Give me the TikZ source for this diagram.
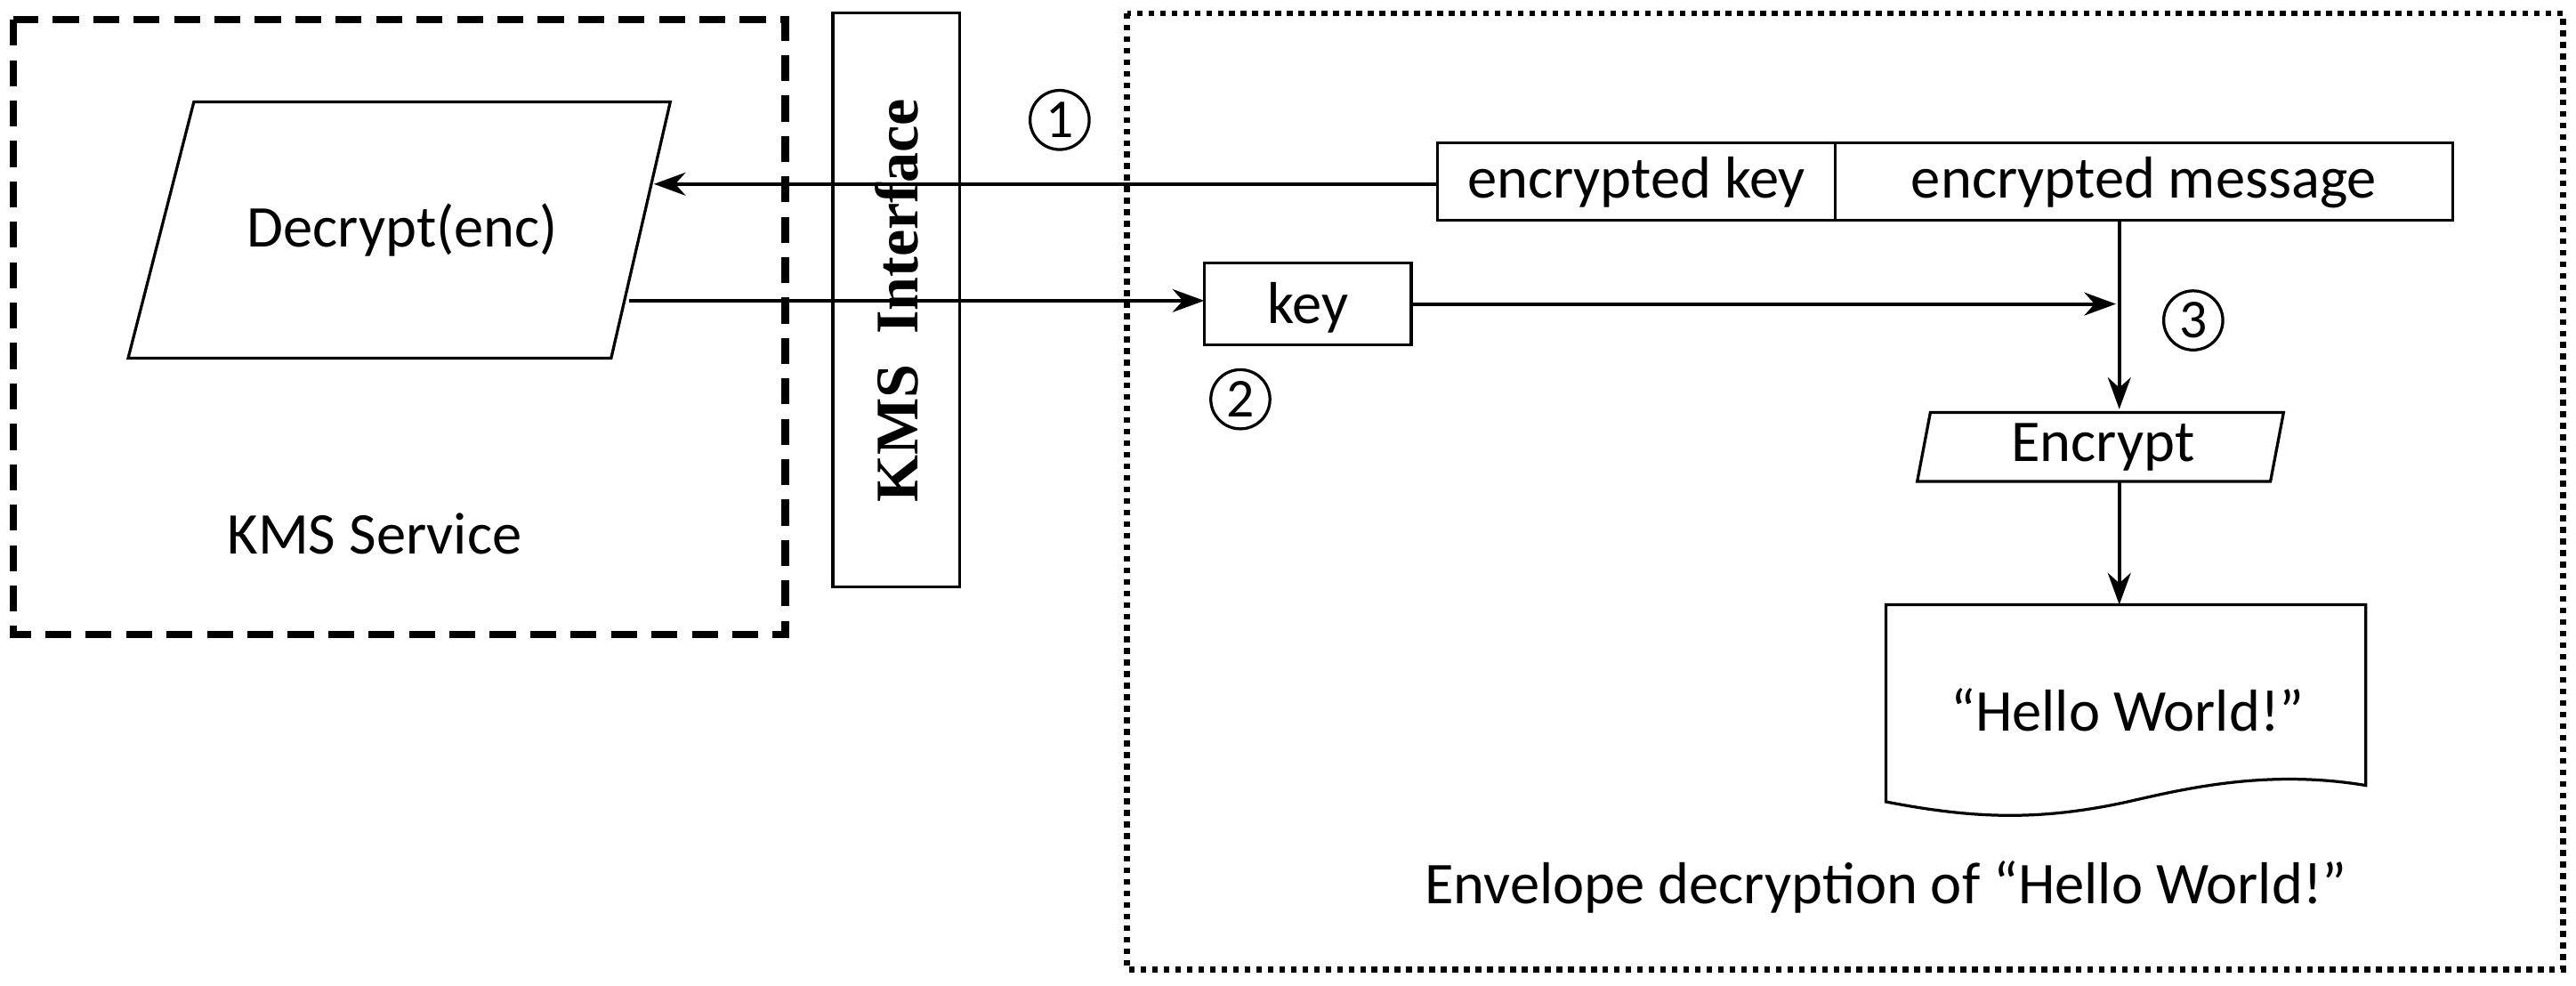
\documentclass[tikz,border=0pt]{standalone}
\usepackage{fontspec}
\setmainfont{Carlito}
\newfontfamily\serifb{Liberation Serif}
\usetikzlibrary{arrows.meta}
\begin{document}
\begin{tikzpicture}[x=0.02cm,y=-0.02cm,
  every node/.style={font=\fontsize{20.5}{24}\selectfont},
  box/.style={draw,line width=1pt},
  arr/.style={line width=1.2pt,-{Stealth[length=11pt,width=8pt]}},
  num/.style={draw,circle,line width=1pt,minimum size=36*0.02cm,inner sep=0pt}]
\useasboundingbox (0,0) rectangle (1568,600);
\draw[line width=2.5pt,dash pattern=on 9pt off 5pt] (8,12) rectangle (478,386);
\draw[line width=2pt,dotted] (686,8) rectangle (1560,590);
\draw[box] (118,62) -- (408,62) -- (372,218) -- (78,218) -- cycle;
\node (dec) at (245,140) {Decrypt(enc)};
\node at (228,325) {KMS Service};
\draw[box] (507,8) rectangle (584,357);
\node[rotate=90,font=\serifb\bfseries\fontsize{21}{24}\selectfont] (kms) at (546,183) {KMS\ \ Interface};
\draw[box] (875,87) rectangle (1117,134);
\node (ek) at (996,111) {encrypted key};
\draw[box] (1117,87) rectangle (1493,134);
\node (em) at (1305,111) {encrypted message};
\draw[box] (733,160) rectangle (859,210);
\node (key) at (796,187) {key};
\node[num,font=\fontsize{19}{22}\selectfont] (n1) at (645,73) {1};
\node[num,font=\fontsize{19}{22}\selectfont] (n2) at (755,243) {2};
\node[num,font=\fontsize{19}{22}\selectfont] (n3) at (1335,195) {3};
\coordinate (a1s) at (875,112); \coordinate (a1e) at (398,112);
\draw[arr] (a1s) -- (a1e);
\coordinate (a2s) at (383,183); \coordinate (a2e) at (733,183);
\draw[arr] (a2s) -- (a2e);
\coordinate (a3s) at (859,185); \coordinate (a3e) at (1288,185);
\draw[arr] (a3s) -- (a3e);
\draw[box] (1175,251) -- (1390,251) -- (1382,293) -- (1167,293) -- cycle;
\node (enc) at (1280,272) {Encrypt};
\coordinate (a4s) at (1290,134); \coordinate (a4e) at (1290,249);
\draw[arr] (a4s) -- (a4e);
\coordinate (a5s) at (1290,293); \coordinate (a5e) at (1290,368);
\draw[arr] (a5s) -- (a5e);
\draw[box] (1148,488) -- (1148,368) -- (1440,368) -- (1440,478)
  .. controls (1380,468) and (1330,480) .. (1295,488)
  .. controls (1240,500) and (1200,498) .. cycle;
\node (hw) at (1295,432) {“Hello World!”};
\node at (1148,540) {Envelope decryption of “Hello World!”};
\end{tikzpicture}
\end{document}
